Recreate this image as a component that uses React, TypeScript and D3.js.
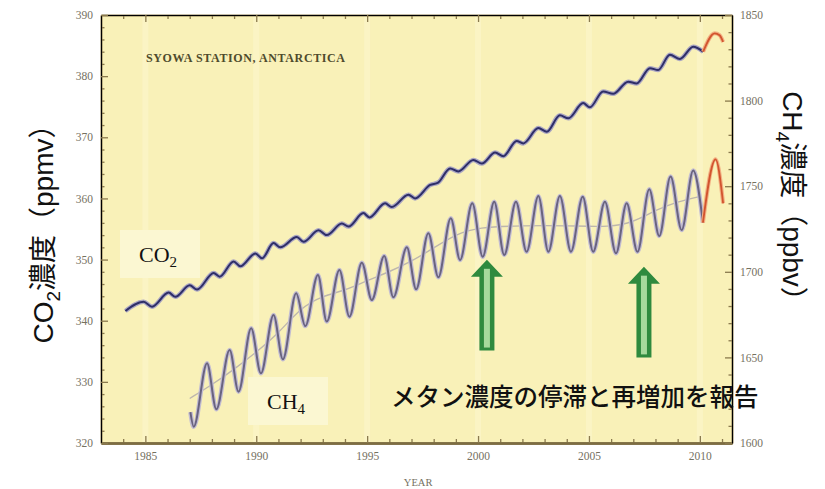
import { useEffect, useRef } from 'react'
import * as d3 from 'd3'

type Pt = [number, number]

// CO2 (ppmv) at Syowa, peaks and troughs
const co2Series: Pt[] = [
  [1984.1, 341.6], [1984.92, 343.1], [1985.3, 342.3], [1986.05, 344.6], [1986.35, 343.9],
  [1987.0, 345.8], [1987.33, 345.1], [1988.08, 347.8], [1988.35, 347.2], [1988.98, 349.7],
  [1989.28, 348.9], [1989.96, 351.0], [1990.26, 350.2], [1990.78, 352.7], [1991.08, 352.0],
  [1991.83, 353.7], [1992.13, 352.9], [1992.81, 354.8], [1993.18, 354.0], [1993.86, 355.9],
  [1994.16, 355.4], [1994.83, 357.6], [1995.1, 356.9], [1995.81, 359.2], [1996.11, 358.6],
  [1996.86, 360.6], [1997.16, 360.0], [1997.84, 362.2], [1998.2, 362.6], [1998.74, 364.9],
  [1999.11, 364.4], [1999.79, 366.3], [2000.17, 365.7], [2000.77, 367.5], [2001.14, 366.9],
  [2001.74, 369.4], [2002.04, 369.0], [2002.72, 371.5], [2003.1, 370.9], [2003.69, 373.6],
  [2004.07, 373.1], [2004.74, 375.6], [2005.04, 374.9], [2005.64, 377.5], [2006.09, 377.1],
  [2006.77, 379.1], [2007.15, 378.8], [2007.75, 381.3], [2008.12, 381.0], [2008.65, 383.5],
  [2009.1, 382.8], [2009.7, 384.8], [2010.15, 384.0],
]
const co2Recent: Pt[] = [[2010.15, 384.0], [2010.67, 387.0], [2010.89, 386.7], [2011.05, 385.6]]

// CH4 (ppbv)
const ch4Series: Pt[] = [
  [1987.03, 1618], [1987.18, 1609.5], [1987.78, 1646.6], [1988.2, 1619.7], [1988.8, 1654.3],
  [1989.2, 1630], [1989.77, 1667], [1990.21, 1640.7], [1990.78, 1674.8], [1991.2, 1648.9],
  [1991.8, 1687.4], [1992.21, 1668.3], [1992.78, 1698.1], [1993.18, 1670.9], [1993.75, 1701.1],
  [1994.2, 1673.8], [1994.76, 1705.3], [1995.21, 1683.5], [1995.77, 1709.2], [1996.18, 1685.1],
  [1996.79, 1714.3], [1997.21, 1689.8], [1997.76, 1722.5], [1998.21, 1696.8], [1998.77, 1731.3],
  [1999.19, 1706.9], [1999.74, 1740], [2000.21, 1708.8], [2000.73, 1740.9], [2001.18, 1709.8],
  [2001.71, 1740.9], [2002.19, 1711.7], [2002.72, 1744.3], [2003.17, 1711.7], [2003.69, 1744.3],
  [2004.19, 1711.7], [2004.72, 1743.9], [2005.19, 1711.7], [2005.72, 1740.9], [2006.22, 1710.8],
  [2006.7, 1740], [2007.19, 1711.7], [2007.72, 1748.2], [2008.17, 1720.9], [2008.68, 1755.6],
  [2009.18, 1724.4], [2009.7, 1759.1], [2010.14, 1728.7],
]
const ch4Recent: Pt[] = [[2010.14, 1728.7], [2010.71, 1765.7], [2011.05, 1740]]
const ch4Trend: Pt[] = [
  [1987.0, 1626], [1988, 1634], [1989, 1643], [1990, 1653], [1991, 1664], [1992, 1679],
  [1993, 1686], [1994, 1689], [1995, 1695], [1996, 1700], [1997, 1706], [1998, 1714],
  [1999, 1722], [2000, 1726], [2002, 1727], [2004, 1727], [2006, 1726], [2007, 1729],
  [2008, 1736], [2009, 1741], [2010, 1744],
]

const yearTicks = [1985, 1990, 1995, 2000, 2005, 2010]
const co2Ticks = [320, 330, 340, 350, 360, 370, 380, 390]
const ch4Ticks = [1600, 1650, 1700, 1750, 1800, 1850]

// arrows: year, tip and base in ppbv
const arrowMarks = [
  { year: 2000.4, tip: 1707, base: 1654 },
  { year: 2007.48, tip: 1703, base: 1650 },
]

const serif = "'Liberation Serif', 'Times New Roman', serif"
const sans = "'Liberation Sans', Arial, 'Noto Sans CJK JP', sans-serif"
const jp = "'Noto Sans CJK JP', sans-serif"

export default function App() {
  const svgRef = useRef<SVGSVGElement>(null)

  useEffect(() => {
    if (!svgRef.current) return
    const svg = d3.select(svgRef.current)
    svg.selectAll('*').remove()

    const left = 101, right = 732, top = 15, bottom = 443
    const x = d3.scaleLinear().domain([1983, 2011.45]).range([left, right])
    const yCo2 = d3.scaleLinear().domain([320, 390]).range([bottom, top])
    const yCh4 = d3.scaleLinear().domain([1600, 1850]).range([bottom, top])

    svg.append('rect').attr('width', 825).attr('height', 489).attr('fill', '#fff')
    svg.append('rect')
      .attr('x', left).attr('y', top)
      .attr('width', right - left).attr('height', bottom - top)
      .attr('fill', '#f9f1b8')

    // faint light bands at 5-year marks
    svg.append('g').selectAll('rect')
      .data(yearTicks)
      .enter()
      .append('rect')
      .attr('x', d => x(d) - 3)
      .attr('y', top)
      .attr('width', 6)
      .attr('height', bottom - top)
      .attr('fill', '#fffbe0')
      .attr('opacity', 0.3)

    const minorYears = d3.range(1984, 2012).filter(d => !yearTicks.includes(d))
    const minorCo2 = d3.range(322, 390, 2).filter(d => d % 10 !== 0)
    const minorCh4 = d3.range(1610, 1850, 10).filter(d => d % 50 !== 0)

    const styleAxis = (g: d3.Selection<SVGGElement, unknown, null, undefined>) => {
      g.select('.domain').attr('stroke', '#8a7a4e').attr('stroke-width', 2)
      g.selectAll('.tick line').attr('stroke', '#8a7a4e').attr('stroke-width', 1.3)
      g.selectAll('.tick text')
        .attr('fill', '#75715f')
        .style('font-family', serif)
        .style('font-size', '11.5px')
    }
    const fmt = d3.format('d')

    // bottom
    const gb = svg.append('g').attr('transform', `translate(0,${bottom})`)
    gb.call(d3.axisBottom(x).tickValues(minorYears).tickSize(-4).tickFormat(() => '').tickSizeOuter(0))
    gb.append('g').call(d3.axisBottom(x).tickValues(yearTicks).tickSize(-7).tickPadding(9).tickFormat(fmt as any).tickSizeOuter(0))
    styleAxis(gb)
    gb.selectAll('.domain').attr('stroke-width', 2.5).attr('stroke', '#7d6d42')

    // top
    const gt = svg.append('g').attr('transform', `translate(0,${top})`)
    gt.call(d3.axisTop(x).tickValues(minorYears).tickSize(-4).tickFormat(() => '').tickSizeOuter(0))
    gt.append('g').call(d3.axisTop(x).tickValues(yearTicks).tickSize(-7).tickFormat(() => '').tickSizeOuter(0))
    styleAxis(gt)

    // left CO2
    const gl = svg.append('g').attr('transform', `translate(${left},0)`)
    gl.call(d3.axisLeft(yCo2).tickValues(minorCo2).tickSize(-3.5).tickFormat(() => '').tickSizeOuter(0))
    gl.append('g').call(d3.axisLeft(yCo2).tickValues(co2Ticks).tickSize(-7).tickPadding(8).tickFormat(fmt as any).tickSizeOuter(0))
    styleAxis(gl)

    // right CH4
    const gr = svg.append('g').attr('transform', `translate(${right},0)`)
    gr.call(d3.axisRight(yCh4).tickValues(minorCh4).tickSize(-3.5).tickFormat(() => '').tickSizeOuter(0))
    gr.append('g').call(d3.axisRight(yCh4).tickValues(ch4Ticks).tickSize(-7).tickPadding(8).tickFormat(fmt as any).tickSizeOuter(0))
    styleAxis(gr)

    svg.append('text')
      .attr('x', x(1997.3)).attr('y', 486)
      .attr('text-anchor', 'middle')
      .attr('fill', '#75715f')
      .style('font-family', serif)
      .style('font-size', '10.5px')
      .text('YEAR')

    svg.append('text')
      .attr('x', 146).attr('y', 62)
      .attr('textLength', 199)
      .attr('fill', '#4f4b2c')
      .style('font-family', serif)
      .style('font-weight', 'bold')
      .style('font-size', '12px')
      .text('SYOWA STATION, ANTARCTICA')

    const co2Line = d3.line<Pt>().x(d => x(d[0])).y(d => yCo2(d[1])).curve(d3.curveMonotoneX)
    const ch4Line = d3.line<Pt>().x(d => x(d[0])).y(d => yCh4(d[1])).curve(d3.curveMonotoneX)
    const trendLine = d3.line<Pt>().x(d => x(d[0])).y(d => yCh4(d[1])).curve(d3.curveBasis)

    svg.append('path').datum(ch4Trend)
      .attr('fill', 'none').attr('stroke', '#bdb6ad').attr('stroke-width', 1.4)
      .attr('d', trendLine)

    // CH4
    svg.append('path').datum(ch4Series)
      .attr('fill', 'none').attr('stroke', '#c2bcd2').attr('stroke-width', 4.5)
      .attr('d', ch4Line)
    svg.append('path').datum(ch4Series)
      .attr('fill', 'none').attr('stroke', '#69637f').attr('stroke-width', 2)
      .attr('d', ch4Line)
    svg.append('path').datum(ch4Recent)
      .attr('fill', 'none').attr('stroke', '#f2b083').attr('stroke-width', 4)
      .attr('d', ch4Line)
    svg.append('path').datum(ch4Recent)
      .attr('fill', 'none').attr('stroke', '#d2542e').attr('stroke-width', 1.8)
      .attr('d', ch4Line)

    // CO2
    svg.append('path').datum(co2Series)
      .attr('fill', 'none').attr('stroke', '#aaa6c2').attr('stroke-width', 4.5)
      .attr('d', co2Line)
    svg.append('path').datum(co2Series)
      .attr('fill', 'none').attr('stroke', '#2e2e68').attr('stroke-width', 2)
      .attr('d', co2Line)
    svg.append('path').datum(co2Recent)
      .attr('fill', 'none').attr('stroke', '#f2b083').attr('stroke-width', 4)
      .attr('d', co2Line)
    svg.append('path').datum(co2Recent)
      .attr('fill', 'none').attr('stroke', '#d2542e').attr('stroke-width', 1.8)
      .attr('d', co2Line)

    // series label boxes
    const labels = [
      { x: 120, y: 230, main: 'CO', sub: '2' },
      { x: 248, y: 377, main: 'CH', sub: '4' },
    ]
    labels.forEach(l => {
      svg.append('rect')
        .attr('x', l.x).attr('y', l.y).attr('width', 80).attr('height', 48)
        .attr('fill', '#fbf7d2')
      const t = svg.append('text')
        .attr('x', l.x + 19).attr('y', l.y + 32)
        .attr('fill', '#111')
        .style('font-family', serif)
        .style('font-size', '22px')
      t.append('tspan').text(l.main)
      t.append('tspan').attr('dy', 5).style('font-size', '15px').text(l.sub)
    })

    // green arrows
    arrowMarks.forEach(a => {
      const cx = x(a.year)
      const tip = yCh4(a.tip)
      const base = yCh4(a.base)
      const hw = 7.5, headW = 16, headH = 17
      const pts: Pt[] = [
        [cx - hw, base], [cx - hw, tip + headH], [cx - headW, tip + headH], [cx, tip],
        [cx + headW, tip + headH], [cx + hw, tip + headH], [cx + hw, base],
      ]
      svg.append('polygon')
        .attr('points', pts.map(p => p.join(',')).join(' '))
        .attr('fill', '#2f8a3e')
      svg.append('rect')
        .attr('x', cx - 3).attr('y', tip + 9)
        .attr('width', 6).attr('height', base - tip - 12)
        .attr('fill', '#a6d99c')
    })

    svg.append('text')
      .attr('x', 391).attr('y', 406)
      .attr('fill', '#111')
      .style('font-family', jp)
      .style('font-weight', 500)
      .style('font-size', '24.5px')
      .text('メタン濃度の停滞と再増加を報告')

    // axis titles
    const lt = svg.append('text')
      .attr('transform', 'translate(53,227) rotate(-90)')
      .attr('text-anchor', 'middle')
      .attr('fill', '#111')
      .style('font-family', sans)
      .style('font-size', '28px')
    lt.append('tspan').text('CO')
    lt.append('tspan').attr('dy', 7).style('font-size', '19px').text('2')
    lt.append('tspan').attr('dy', -7).text('濃度（ppmv）')

    const rt = svg.append('text')
      .attr('transform', 'translate(783,203) rotate(90)')
      .attr('text-anchor', 'middle')
      .attr('fill', '#111')
      .style('font-family', sans)
      .style('font-size', '28px')
    rt.append('tspan').text('CH')
    rt.append('tspan').attr('dy', 7).style('font-size', '19px').text('4')
    rt.append('tspan').attr('dy', -7).text('濃度（ppbv）')
  }, [])

  return (
    <svg
      ref={svgRef}
      width={825}
      height={489}
      style={{ position: 'absolute', left: 0, top: 0, display: 'block' }}
    />
  )
}
